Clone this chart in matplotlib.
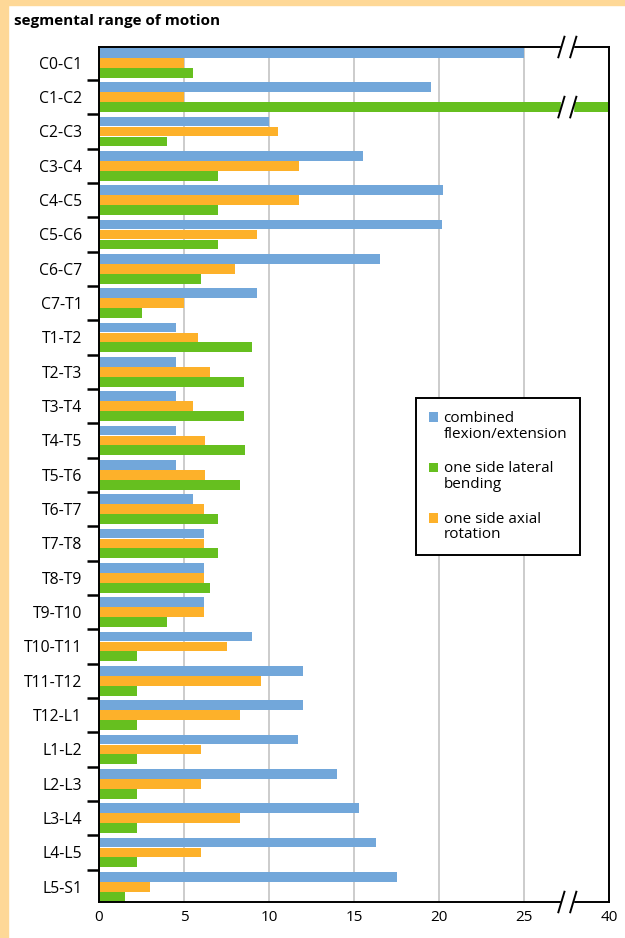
"""
Segmental range of motion of the spine (horizontal grouped bars, broken x axis)
"""

# IMPORT
import numpy as np
import matplotlib.pyplot as plt
import matplotlib.transforms as mtransforms
from matplotlib.patches import Rectangle
from matplotlib.container import BarContainer
from matplotlib.legend_handler import HandlerPatch, update_from_first_child

plt.rcParams['font.family'] = ['Open Sans', 'DejaVu Sans']

# DATA
segments = ['C0-C1', 'C1-C2', 'C2-C3', 'C3-C4', 'C4-C5', 'C5-C6', 'C6-C7', 'C7-T1',
            'T1-T2', 'T2-T3', 'T3-T4', 'T4-T5', 'T5-T6', 'T6-T7', 'T7-T8', 'T8-T9',
            'T9-T10', 'T10-T11', 'T11-T12', 'T12-L1',
            'L1-L2', 'L2-L3', 'L3-L4', 'L4-L5', 'L5-S1']
flex_ext = [25, 19.5, 10, 15.5, 20.25, 20.2, 16.5, 9.3,
            4.5, 4.5, 4.5, 4.5, 4.5, 5.5, 6.2, 6.2,
            6.2, 9.0, 12.0, 12.0,
            11.7, 14.0, 15.3, 16.3, 17.5]
axial_rot = [5.0, 5.0, 10.5, 11.75, 11.75, 9.3, 8.0, 5.0,
             5.8, 6.5, 5.5, 6.25, 6.25, 6.2, 6.2, 6.2,
             6.2, 7.5, 9.55, 8.3,
             6.0, 6.0, 8.3, 6.0, 3.0]
lat_bend = [5.5, 40, 4.0, 7.0, 7.0, 7.0, 6.0, 2.5,
            9.0, 8.5, 8.5, 8.6, 8.3, 7.0, 7.0, 6.5,
            4.0, 2.25, 2.25, 2.25,
            2.25, 2.25, 2.25, 2.25, 1.5]
xticks = [0, 5, 10, 15, 20, 25, 30]
xticklabels = ['0', '5', '10', '15', '20', '25', '40']

c_blue = '#72a7da'
c_orange = '#fdb12a'
c_green = '#66bf1f'
cream = '#fed897'

# FIGURE
fig = plt.figure(figsize=(6.25, 9.38), dpi=100, facecolor='white')
fig.patches.append(Rectangle((0, 0), 8 / 625, 1, transform=fig.transFigure, color=cream, zorder=0))
fig.patches.append(Rectangle((0, 1 - 5 / 938), 1, 5 / 938, transform=fig.transFigure, color=cream, zorder=0))

ax = fig.add_axes([99 / 625, 36 / 938, 510 / 625, 855 / 938])

y = np.arange(len(segments))
h = 0.285
off = 0.29
ax.barh(y - off, flex_ext, height=h, color=c_blue, zorder=2, label='combined\nflexion/extension')
ax.barh(y, axial_rot, height=h, color=c_orange, zorder=2, label='one side axial\nrotation')
ax.barh(y + off, lat_bend, height=h, color=c_green, zorder=2, label='one side lateral\nbending')

ax.set_xlim(0, 30)
ax.set_ylim(len(segments) - 1 + 0.445, -0.46)

ax.set_xticks(xticks)
ax.set_xticklabels(xticklabels, fontsize=11)
ax.tick_params(axis='x', length=0, pad=6)

ax.set_yticks(y)
ax.set_yticklabels(segments, fontsize=11.3)
ax.set_yticks(y[:-1] + 0.5, minor=True)
ax.tick_params(axis='y', which='major', length=0, pad=12)
ax.tick_params(axis='y', which='minor', length=8.5, width=1.8, color='black')

ax.set_axisbelow(True)
ax.xaxis.grid(True, color='#c4c4c4', lw=1.2)
for s in ax.spines.values():
    s.set_linewidth(1.4)
    s.set_color('black')

# axis break marks  //
brk_lo, brk_hi = 27.2, 27.9
trans = mtransforms.blended_transform_factory(ax.transData, ax.transAxes)
for yy in (0, 1):
    ax.add_patch(Rectangle((brk_lo, yy - 0.004), brk_hi - brk_lo, 0.008, transform=trans,
                           color='white', clip_on=False, zorder=5))
    for xb in (brk_lo, brk_hi):
        ax.plot([xb - 0.18, xb + 0.18], [yy - 0.012, yy + 0.012], transform=trans,
                color='black', lw=1.4, clip_on=False, zorder=6)
# break across the long C1-C2 bar
yb = 1 + off
ax.add_patch(Rectangle((brk_lo, yb - h / 2), brk_hi - brk_lo, h, color='white', zorder=5))
for xb in (brk_lo, brk_hi):
    ax.plot([xb - 0.18, xb + 0.18], [yb + 0.3, yb - 0.3], color='black', lw=1.4, zorder=6)


# legend, square on the first text line
def square_top(legend, orig_handle, xdescent, ydescent, width, height, fontsize):
    return Rectangle((-xdescent, -ydescent + 0.6 * fontsize), width, height)


hnd, lab = ax.get_legend_handles_labels()
order = [0, 2, 1]
leg = ax.legend([hnd[i] for i in order], [lab[i] for i in order],
                loc='upper left', bbox_to_anchor=(0.6216, 0.5895), fontsize=11,
                handlelength=0.6, handleheight=0.6, handletextpad=0.35,
                labelspacing=1.3, borderpad=0.85, borderaxespad=0,
                fancybox=False, framealpha=1,
                handler_map={BarContainer: HandlerPatch(patch_func=square_top,
                                                        update_func=update_from_first_child)})
leg.get_frame().set_edgecolor('black')
leg.get_frame().set_linewidth(1.4)
for t in leg.get_texts():
    t.set_linespacing(1.05)

fig.text(14 / 625, 1 - 21 / 938, 'segmental range of motion', fontsize=11,
         fontweight='bold', va='center', ha='left')

fig.savefig('out.png', dpi=100)
